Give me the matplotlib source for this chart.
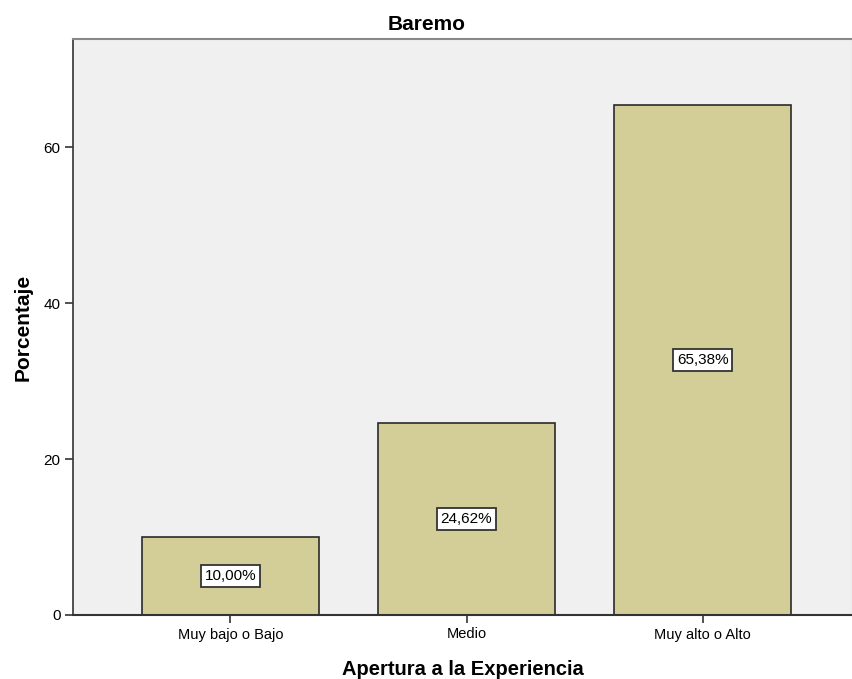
import matplotlib
matplotlib.use("Agg")
import matplotlib.pyplot as plt

plt.rcParams['font.family'] = ['Liberation Sans', 'DejaVu Sans']

# datos
categorias = ["Muy bajo o Bajo", "Medio", "Muy alto o Alto"]
porcentajes = [10.00, 24.62, 65.38]
etiquetas = ["10,00%", "24,62%", "65,38%"]
yticks = [0, 20, 40, 60]

fig = plt.figure(figsize=(8.53, 6.79), dpi=100)
ax = fig.add_axes([73 / 853, 1 - 615 / 679, (852 - 73) / 853, (615 - 39) / 679])
ax.set_facecolor('#F0F0F0')

x = list(range(len(categorias)))
ax.bar(x, porcentajes, width=0.75, color='#D3CE97', edgecolor='#2a2a2a', linewidth=1.2, zorder=2)

for xi, v, lab in zip(x, porcentajes, etiquetas):
    ax.text(xi, v / 2, lab, ha='center', va='center', fontsize=11, zorder=3,
            bbox=dict(boxstyle='square,pad=0.25', facecolor='white', edgecolor='#333333', linewidth=1.3))

ax.set_xlim(-0.667, 2.633)
ax.set_ylim(0, 73.85)
ax.set_xticks(x)
ax.set_xticklabels(categorias, fontsize=10.5)
ax.set_yticks(yticks)
ax.set_yticklabels([str(t) for t in yticks], fontsize=11)
ax.tick_params(axis='both', direction='out', length=6, width=1.2, color='#333333', pad=3)

ax.spines['left'].set_color('#333333')
ax.spines['left'].set_linewidth(1.2)
ax.spines['bottom'].set_color('#333333')
ax.spines['bottom'].set_linewidth(1.5)
ax.spines['top'].set_color('#888888')
ax.spines['top'].set_linewidth(1.5)
ax.spines['right'].set_color('#dddddd')
ax.spines['right'].set_linewidth(1.0)

fig.text(0.5, 1 - 25 / 679, "Baremo", ha='center', va='center', fontsize=15, fontweight='bold')
ax.set_xlabel("Apertura a la Experiencia", fontsize=14.5, fontweight='bold', labelpad=13)
ax.set_ylabel("Porcentaje", fontsize=15, fontweight='bold', labelpad=8)

fig.savefig("out.png", dpi=100)
